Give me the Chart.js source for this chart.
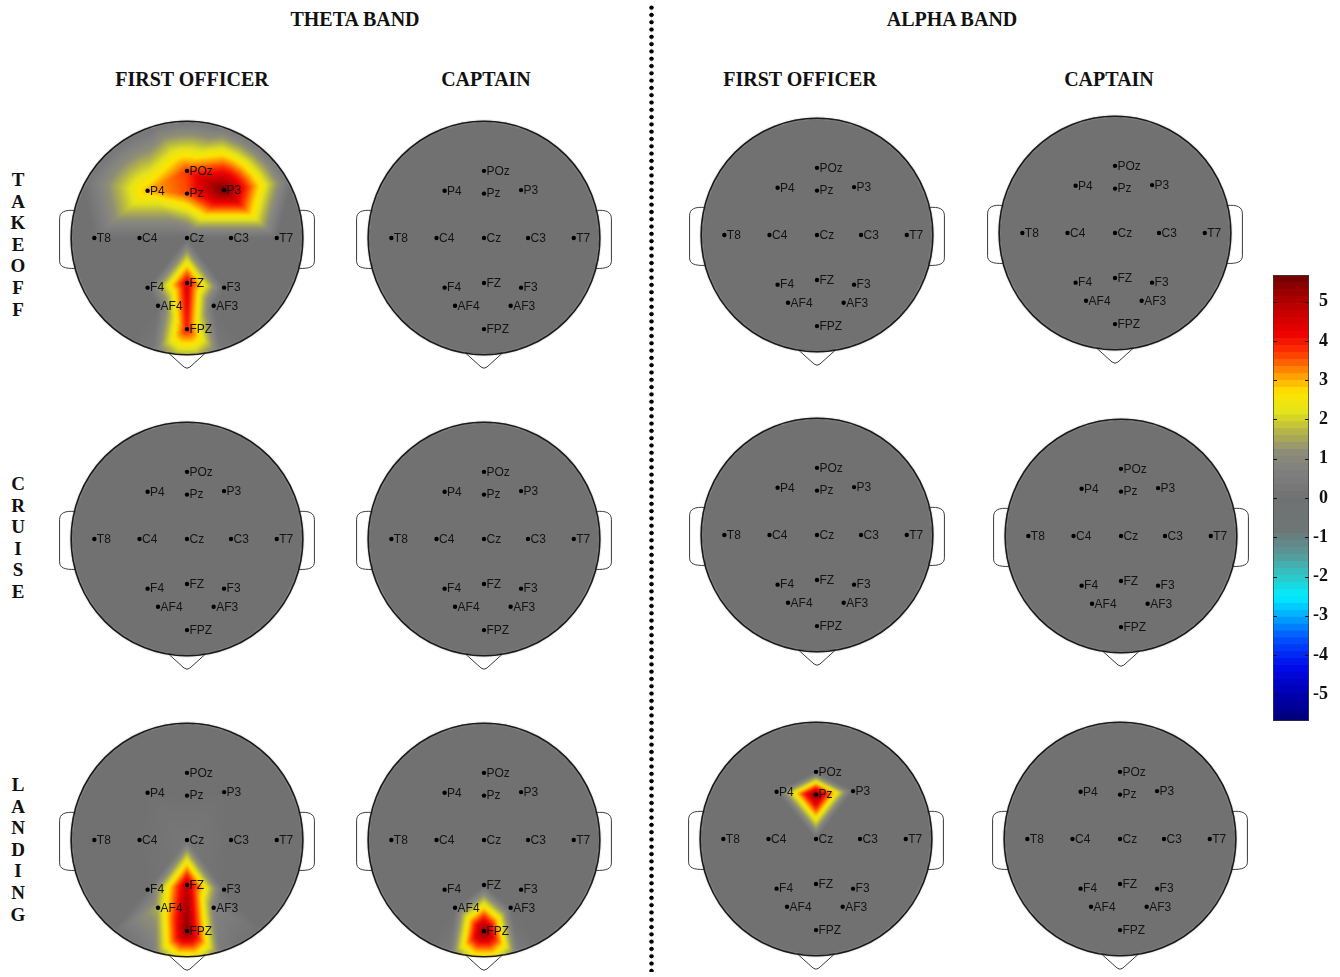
<!DOCTYPE html>
<html>
<head>
<meta charset="utf-8">
<script src="https://cdn.jsdelivr.net/npm/chart.js@4.4.0/dist/chart.umd.min.js"></script>
<style>
  html, body { margin: 0; padding: 0; background: #fff; }
  #page { position: relative; width: 1340px; height: 977px; overflow: hidden; background: #fff; }
  .title { position: absolute; font-family: "Liberation Serif", "Times New Roman", serif; font-weight: bold;
           font-size: 20px; color: #111; white-space: nowrap; transform: translate(-50%, -50%); }
  .rowlab { position: absolute; width: 30px; font-family: "Liberation Serif", "Times New Roman", serif;
            font-weight: bold; font-size: 19px; line-height: 21.6px; text-align: center; color: #111; }
  canvas { position: absolute; }
  #sep { position: absolute; left: 649px; top: 4px; width: 5px; height: 968px;
         background-image: radial-gradient(circle at center, #000 0, #000 1.9px, rgba(0,0,0,0) 2.5px);
         background-size: 5px 7.3px; }
</style>
</head>
<body>
<div id="page">
  <div class="title" style="left:355px;top:19px;">THETA BAND</div>
  <div class="title" style="left:952px;top:19px;">ALPHA BAND</div>
  <div class="title" style="left:192px;top:79px;">FIRST OFFICER</div>
  <div class="title" style="left:486px;top:79px;">CAPTAIN</div>
  <div class="title" style="left:800px;top:79px;">FIRST OFFICER</div>
  <div class="title" style="left:1109px;top:79px;">CAPTAIN</div>
  <div class="rowlab" style="left:3px;top:169px;">T<br>A<br>K<br>E<br>O<br>F<br>F</div>
  <div class="rowlab" style="left:3px;top:473px;">C<br>R<br>U<br>I<br>S<br>E</div>
  <div class="rowlab" style="left:3px;top:774px;">L<br>A<br>N<br>D<br>I<br>N<br>G</div>
  <div id="sep"></div>
</div>
<script>
// ---- electrode montage (unit head radius, posterior up, nose down) ----
const ELECTRODES = ['POz', 'P4', 'Pz', 'P3', 'T8', 'C4', 'Cz', 'C3', 'T7', 'F4', 'FZ', 'F3', 'AF4', 'AF3', 'FPZ'];
const ELEC_X = [0.00, -0.34, 0.00, 0.32, -0.80, -0.41, 0.00, 0.38, 0.775, -0.34, 0.00, 0.32, -0.25, 0.23, 0.00];
const ELEC_Y = [0.575, 0.405, 0.38, 0.41, 0.00, 0.00, 0.00, 0.00, 0.00, -0.425, -0.385, -0.425, -0.58, -0.58, -0.78];

// ---- values per electrode (same order as ELECTRODES) ----
const THETA_FO_TAKEOFF  = [3.7, 3.0, 3.6, 5.7, 0, 0, 0, 0, 0, 0, 4.5, 0, 0, 0, 4.0];
const THETA_FO_CRUISE   = [0, 0, 0, 0, 0, 0, 0, 0, 0, 0, 0, 0, 0, 0, 0];
const THETA_FO_LANDING  = [0, 0, 0, 0, 0, 0, 0.3, 0, 0, 0, 4.9, 0, 1.6, 0.8, 5.5];
const THETA_CPT_TAKEOFF = [0, 0, 0, 0, 0, 0, 0, 0, 0, 0, 0, 0, 0, 0, 0];
const THETA_CPT_CRUISE  = [0, 0, 0, 0, 0, 0, 0, 0, 0, 0, 0, 0, 0, 0, 0];
const THETA_CPT_LANDING = [0, 0, 0, 0, 0, 0, 0, 0, 0, 0, 0, 0, 0, 0, 5.6];
const ALPHA_FO_TAKEOFF  = [0, 0, 0, 0, 0, 0, 0, 0, 0, 0, 0, 0, 0, 0, 0];
const ALPHA_FO_CRUISE   = [0, 0, 0, 0, 0, 0, 0, 0, 0, 0, 0, 0, 0, 0, 0];
const ALPHA_FO_LANDING  = [0, 0, 5.6, 0, 0, 0, 0, 0, 0, 0, 0, 0, 0, 0, 0];
const ALPHA_CPT_TAKEOFF = [0, 0, 0, 0, 0, 0, 0, 0, 0, 0, 0, 0, 0, 0, 0];
const ALPHA_CPT_CRUISE  = [0, 0, 0, 0, 0, 0, 0, 0, 0, 0, 0, 0, 0, 0, 0];
const ALPHA_CPT_LANDING = [0, 0, 0, 0, 0, 0, 0, 0, 0, 0, 0, 0, 0, 0, 0];

// ---- colour scale ----
const CB_MIN = -5.68, CB_MAX = 5.68;
const COLORBAR_TICKS = [-5, -4, -3, -2, -1, 0, 1, 2, 3, 4, 5];
const CMAP_VALUES = [-5.68, -5.0, -4.3, -3.6, -3.0, -2.5, -2.0, -1.4, -0.8, 0.0, 0.7, 1.2, 1.7, 2.2, 2.7, 3.2, 3.7, 4.2, 5.0, 5.68];
const CMAP_COLORS = [[0,0,120],[0,0,175],[0,10,235],[0,80,255],[0,170,255],[0,238,255],[45,200,200],[90,150,150],
                     [108,118,118],[113,113,113],[128,128,128],[142,142,118],[182,182,70],[228,228,25],[255,228,0],
                     [255,145,0],[255,55,0],[238,0,0],[178,0,0],[110,0,0]];

function colorFor(v) {
  if (v <= CMAP_VALUES[0]) return CMAP_COLORS[0];
  const n = CMAP_VALUES.length;
  if (v >= CMAP_VALUES[n - 1]) return CMAP_COLORS[n - 1];
  for (let i = 1; i < n; i++) {
    if (v <= CMAP_VALUES[i]) {
      const t = (v - CMAP_VALUES[i - 1]) / (CMAP_VALUES[i] - CMAP_VALUES[i - 1]);
      const a = CMAP_COLORS[i - 1], b = CMAP_COLORS[i];
      return [a[0] + (b[0] - a[0]) * t, a[1] + (b[1] - a[1]) * t, a[2] + (b[2] - a[2]) * t];
    }
  }
  return CMAP_COLORS[n - 1];
}

// ---- scalp interpolation: linear over a Delaunay mesh of the electrodes plus a rim ----
const RIM_N = 32, RIM_R = 1.03;
const RIM_SIGMA = 0.13, RIM_R0 = 0.22;

function rimValue(ux, uy, vals) {
  // decaying extrapolation toward the rim
  const s2 = 2 * RIM_SIGMA * RIM_SIGMA;
  let num = 0, den = Math.exp(-RIM_R0 * RIM_R0 / s2);
  for (let i = 0; i < vals.length; i++) {
    const dx = ux - ELEC_X[i], dy = uy - ELEC_Y[i];
    const w = Math.exp(-(dx * dx + dy * dy) / s2);
    num += w * vals[i];
    den += w;
  }
  return num / den;
}

function meshNodes() {
  const nodes = ELECTRODES.map((n, i) => [ELEC_X[i], ELEC_Y[i]]);
  for (let k = 0; k < RIM_N; k++) {
    const t = (k + 0.5) * 2 * Math.PI / RIM_N;
    nodes.push([RIM_R * Math.cos(t), RIM_R * Math.sin(t)]);
  }
  return nodes;
}

function delaunay(pts) {
  const P = pts.slice();
  const n = P.length;
  P.push([-20, -20], [20, -20], [0, 25]);
  const circ = (t) => {
    const [ax, ay] = P[t[0]], [bx, by] = P[t[1]], [cx, cy] = P[t[2]];
    const d = 2 * (ax * (by - cy) + bx * (cy - ay) + cx * (ay - by));
    const a2 = ax * ax + ay * ay, b2 = bx * bx + by * by, c2 = cx * cx + cy * cy;
    const ux = (a2 * (by - cy) + b2 * (cy - ay) + c2 * (ay - by)) / d;
    const uy = (a2 * (cx - bx) + b2 * (ax - cx) + c2 * (bx - ax)) / d;
    return [ux, uy, (ax - ux) * (ax - ux) + (ay - uy) * (ay - uy)];
  };
  let tris = [{ v: [n, n + 1, n + 2], c: circ([n, n + 1, n + 2]) }];
  for (let i = 0; i < n; i++) {
    const [px, py] = P[i];
    const bad = [], keep = [];
    for (const t of tris) {
      const dx = px - t.c[0], dy = py - t.c[1];
      (dx * dx + dy * dy < t.c[2] - 1e-12 ? bad : keep).push(t);
    }
    const edgeCount = new Map();
    for (const t of bad) {
      const v = t.v;
      for (const [a, b] of [[v[0], v[1]], [v[1], v[2]], [v[2], v[0]]]) {
        const key = a < b ? a + ',' + b : b + ',' + a;
        const e = edgeCount.get(key);
        if (e) e.count++; else edgeCount.set(key, { a, b, count: 1 });
      }
    }
    tris = keep;
    for (const e of edgeCount.values()) {
      if (e.count === 1) {
        const v = [e.a, e.b, i];
        tris.push({ v, c: circ(v) });
      }
    }
  }
  return tris.filter(t => t.v.every(k => k < n)).map(t => t.v);
}

const MESH_NODES = meshNodes();
const MESH_TRIS = delaunay(MESH_NODES);

function nodeValues(vals) {
  return MESH_NODES.map((p, k) => k < vals.length ? vals[k] : rimValue(p[0], p[1], vals));
}

// ---- head-map plugin: ears, nose, interpolated scalp field, outline, labels ----
const headPlugin = {
  id: 'headMap',
  beforeDatasetsDraw(chart, args, opts) {
    const { ctx, chartArea: a, scales: { x, y } } = chart;
    const P = (ux, uy) => [x.getPixelForValue(ux), y.getPixelForValue(uy)];
    ctx.save();
    ctx.lineWidth = 1;
    ctx.strokeStyle = '#3a3a3a';
    ctx.fillStyle = '#ffffff';
    for (const s of [-1, 1]) {
      ctx.beginPath();
      ctx.moveTo(...P(s * 0.96, 0.235));
      ctx.bezierCurveTo(...P(s * 1.06, 0.245), ...P(s * 1.1, 0.22), ...P(s * 1.1, 0.165));
      ctx.lineTo(...P(s * 1.1, -0.195));
      ctx.bezierCurveTo(...P(s * 1.1, -0.245), ...P(s * 1.06, -0.265), ...P(s * 0.96, -0.26));
      ctx.closePath();
      ctx.fill();
      ctx.stroke();
    }
    ctx.beginPath();
    ctx.moveTo(...P(-0.165, -0.98));
    ctx.lineTo(...P(-0.025, -1.105));
    ctx.quadraticCurveTo(...P(0, -1.125), ...P(0.025, -1.105));
    ctx.lineTo(...P(0.165, -0.98));
    ctx.closePath();
    ctx.fill();
    ctx.stroke();

    // rasterise the mesh through the chart scales
    const w = Math.round(a.right - a.left), h = Math.round(a.bottom - a.top);
    const field = new Float32Array(w * h).fill(NaN);
    const nv = nodeValues(opts.values);
    const colX = new Float64Array(w), rowY = new Float64Array(h);
    for (let px = 0; px < w; px++) colX[px] = x.getValueForPixel(a.left + px + 0.5);
    for (let py = 0; py < h; py++) rowY[py] = y.getValueForPixel(a.top + py + 0.5);
    for (const t of MESH_TRIS) {
      const p0 = P(...MESH_NODES[t[0]]), p1 = P(...MESH_NODES[t[1]]), p2 = P(...MESH_NODES[t[2]]);
      const minX = Math.max(0, Math.floor(Math.min(p0[0], p1[0], p2[0]) - a.left));
      const maxX = Math.min(w - 1, Math.ceil(Math.max(p0[0], p1[0], p2[0]) - a.left));
      const minY = Math.max(0, Math.floor(Math.min(p0[1], p1[1], p2[1]) - a.top));
      const maxY = Math.min(h - 1, Math.ceil(Math.max(p0[1], p1[1], p2[1]) - a.top));
      const den = (p1[1] - p2[1]) * (p0[0] - p2[0]) + (p2[0] - p1[0]) * (p0[1] - p2[1]);
      for (let py = minY; py <= maxY; py++) {
        const sy = a.top + py + 0.5;
        for (let px = minX; px <= maxX; px++) {
          const k = py * w + px;
          if (!Number.isNaN(field[k])) continue;
          const sx = a.left + px + 0.5;
          const l0 = ((p1[1] - p2[1]) * (sx - p2[0]) + (p2[0] - p1[0]) * (sy - p2[1])) / den;
          const l1 = ((p2[1] - p0[1]) * (sx - p2[0]) + (p0[0] - p2[0]) * (sy - p2[1])) / den;
          const l2 = 1 - l0 - l1;
          if (l0 < -1e-6 || l1 < -1e-6 || l2 < -1e-6) continue;
          field[k] = l0 * nv[t[0]] + l1 * nv[t[1]] + l2 * nv[t[2]];
        }
      }
    }
    const off = document.createElement('canvas');
    off.width = w; off.height = h;
    const octx = off.getContext('2d');
    const img = octx.createImageData(w, h);
    for (let py = 0; py < h; py++) {
      const uy = rowY[py];
      for (let px = 0; px < w; px++) {
        const ux = colX[px];
        if (ux * ux + uy * uy > 1.0) continue;
        const k = py * w + px;
        const c = colorFor(Number.isNaN(field[k]) ? 0 : field[k]);
        img.data[4 * k] = c[0]; img.data[4 * k + 1] = c[1]; img.data[4 * k + 2] = c[2]; img.data[4 * k + 3] = 255;
      }
    }
    octx.putImageData(img, 0, 0);
    ctx.filter = 'blur(0.9px)';
    ctx.drawImage(off, a.left, a.top);
    ctx.filter = 'none';

    const [cx, cy] = P(0, 0);
    const rx = x.getPixelForValue(1) - cx, ry = cy - y.getPixelForValue(1);
    ctx.beginPath();
    ctx.ellipse(cx, cy, rx, ry, 0, 0, Math.PI * 2);
    ctx.lineWidth = 1.6;
    ctx.strokeStyle = '#1a1a1a';
    ctx.stroke();
    ctx.restore();
  },
  afterDatasetsDraw(chart) {
    const { ctx } = chart;
    const meta = chart.getDatasetMeta(0);
    ctx.save();
    ctx.font = '12px "Liberation Sans", Arial, sans-serif';
    ctx.fillStyle = '#141414';
    ctx.textAlign = 'left';
    ctx.textBaseline = 'middle';
    meta.data.forEach((pt, i) => ctx.fillText(ELECTRODES[i], pt.x + 2.5, pt.y + 0.5));
    ctx.restore();
  }
};

// panel layout: [values, centre x, centre y]
const PANELS = [
  [THETA_FO_TAKEOFF, 187, 237.5], [THETA_CPT_TAKEOFF, 484, 237.5], [ALPHA_FO_TAKEOFF, 817, 235], [ALPHA_CPT_TAKEOFF, 1115, 233],
  [THETA_FO_CRUISE, 187, 539], [THETA_CPT_CRUISE, 484, 539], [ALPHA_FO_CRUISE, 817, 535], [ALPHA_CPT_CRUISE, 1121, 536],
  [THETA_FO_LANDING, 187, 840], [THETA_CPT_LANDING, 484, 840], [ALPHA_FO_LANDING, 816, 839], [ALPHA_CPT_LANDING, 1120, 839]
];
const HALF = 150, RX = 119, RY = 120;
const page = document.getElementById('page');

PANELS.forEach(([vals, cx, cy]) => {
  const cv = document.createElement('canvas');
  cv.width = HALF * 2; cv.height = HALF * 2;
  cv.style.left = (cx - HALF) + 'px';
  cv.style.top = (cy - HALF) + 'px';
  page.appendChild(cv);
  new Chart(cv, {
    type: 'scatter',
    data: {
      datasets: [{
        data: ELECTRODES.map((name, i) => ({ x: ELEC_X[i], y: ELEC_Y[i] })),
        pointRadius: 2.2,
        pointBackgroundColor: '#000',
        pointBorderWidth: 0
      }]
    },
    options: {
      responsive: false,
      animation: false,
      events: [],
      layout: { padding: 0 },
      plugins: { legend: { display: false }, tooltip: { enabled: false }, headMap: { values: vals } },
      scales: {
        x: { type: 'linear', display: false, min: -HALF / RX, max: HALF / RX },
        y: { type: 'linear', display: false, min: -HALF / RY, max: HALF / RY }
      }
    },
    plugins: [headPlugin]
  });
});

// ---- colour bar ----
const cbPlugin = {
  id: 'cbTicks',
  afterDatasetsDraw(chart) {
    const { ctx, chartArea: a, scales: { y } } = chart;
    ctx.save();
    ctx.strokeStyle = '#111';
    ctx.lineWidth = 1;
    COLORBAR_TICKS.forEach(v => {
      const py = Math.round(y.getPixelForValue(v)) + 0.5;
      ctx.beginPath();
      ctx.moveTo(a.left, py); ctx.lineTo(a.left + 4, py);
      ctx.moveTo(a.right - 4, py); ctx.lineTo(a.right, py);
      ctx.stroke();
    });
    ctx.strokeStyle = 'rgba(60,60,60,0.7)';
    ctx.strokeRect(a.left + 0.5, a.top + 0.5, a.right - a.left - 1, a.bottom - a.top - 1);
    ctx.restore();
  }
};
const cb = document.createElement('canvas');
cb.width = 55; cb.height = 486;
cb.style.left = '1273px'; cb.style.top = '255px';
page.appendChild(cb);
new Chart(cb, {
  type: 'bar',
  data: {
    labels: [''],
    datasets: [{
      data: [[CB_MIN, CB_MAX]],
      barPercentage: 1,
      categoryPercentage: 1,
      borderWidth: 0,
      backgroundColor: (c) => {
        const { chart } = c;
        if (!chart.chartArea) return '#777';
        const ys = chart.scales.y;
        const g = chart.ctx.createLinearGradient(0, ys.getPixelForValue(CB_MIN), 0, ys.getPixelForValue(CB_MAX));
        const N = 64;
        for (let k = 0; k < N; k++) {
          const v = CB_MIN + (k + 0.5) * (CB_MAX - CB_MIN) / N;
          const col = colorFor(v).map(Math.round);
          const css = 'rgb(' + col.join(',') + ')';
          g.addColorStop(k / N, css);
          g.addColorStop(Math.min(1, (k + 1) / N - 0.0005), css);
        }
        return g;
      }
    }]
  },
  options: {
    responsive: false,
    animation: false,
    events: [],
    layout: { padding: { top: 20, bottom: 20, left: 0, right: 0 } },
    plugins: { legend: { display: false }, tooltip: { enabled: false } },
    scales: {
      x: { display: false },
      y: {
        position: 'right',
        min: CB_MIN, max: CB_MAX,
        grid: { display: false },
        border: { display: false },
        afterBuildTicks: (s) => { s.ticks = COLORBAR_TICKS.map(v => ({ value: v })); },
        afterFit: (s) => { s.width = 19; },
        ticks: {
          padding: 4,
          crossAlign: 'far',
          color: '#111',
          font: { family: '"Liberation Serif", "Times New Roman", serif', weight: 'bold', size: 18 }
        }
      }
    }
  },
  plugins: [cbPlugin]
});
</script>
</body>
</html>
